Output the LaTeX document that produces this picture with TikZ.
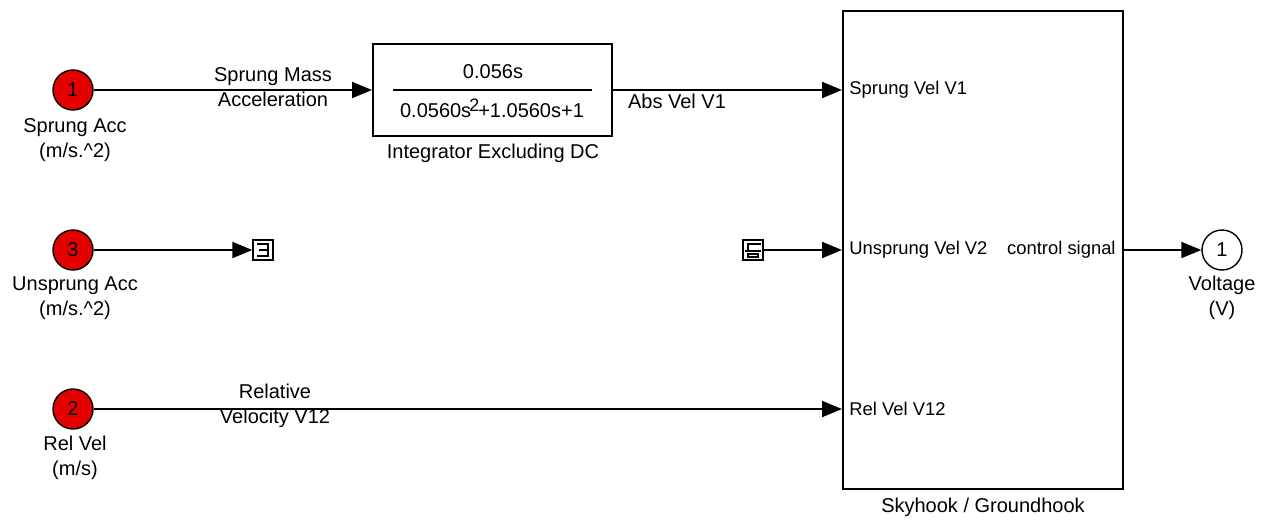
\documentclass[tikz,border=0pt]{standalone}
\usepackage{fontspec}
\setmainfont{Liberation Sans}
\usetikzlibrary{arrows.meta}

\begin{document}
\begin{tikzpicture}[
  x = 0.5pt,
  y = -0.5pt,
  font = \fontsize{10}{12.5}\selectfont,
  port/.style = {
    shape = circle,
    draw = black,
    line width = 0.7pt,
    minimum size = 20pt,
    inner sep = 0pt,
  },
  inport/.style = {
    port,
    fill = red!90!black,
  },
  block/.style = {
    draw = black,
    line width = 1pt,
    inner sep = 0pt,
  },
  icon/.style = {
    draw = black,
    line width = 0.7pt,
    minimum size = 10pt,
    inner sep = 0pt,
  },
  lbl/.style = {
    align = center,
    inner sep = 0pt,
  },
  portlbl/.style = {
    lbl,
    font = \fontsize{9.2}{11}\selectfont,
  },
  sig/.style = {
    line width = 1pt,
    -{Triangle[length = 10pt, width = 8pt]}
  }
]
  \useasboundingbox (0, 0) rectangle (1278, 519);

  % inports
  \node[inport] (in1) at (73, 90) {1};
  \node[inport] (in3) at (73, 250) {3};
  \node[inport] (in2) at (73, 409) {2};
  \node[lbl] (in1name) at (75, 140) {Sprung Acc\\(m/s.\^{}2)};
  \node[lbl] (in3name) at (75, 298) {Unsprung Acc\\(m/s.\^{}2)};
  \node[lbl] (in2name) at (75, 458) {Rel Vel\\(m/s)};

  % transfer function
  \node[block, minimum width = 119.5pt, minimum height = 45.5pt] (tf) at (492.5, 90) {};
  \node[lbl] (tfnum) at (493, 72) {0.056s};
  \node[lbl] (tfden) at (492, 108) {0.0560s\kern-1pt\raisebox{0.55ex}{\fontsize{9}{9}\selectfont 2}\kern-0.5pt+1.0560s+1};
  \draw[line width = 0.8pt] (393, 90) -- (592, 90);
  \node[lbl] (tfname) at (493, 153) {Integrator Excluding DC};

  % controller
  \node[block, minimum width = 140pt, minimum height = 239pt] (sky) at (983, 250) {};
  \node[portlbl, anchor = west] (p1) at (849, 90) {Sprung Vel V1};
  \node[portlbl, anchor = west] (p2) at (849, 250) {Unsprung Vel V2};
  \node[portlbl, anchor = west] (p3) at (849, 409) {Rel Vel V12};
  \node[portlbl, anchor = east] (q1) at (1116, 250) {control signal};
  \node[lbl] (skyname) at (983, 507) {Skyhook / Groundhook};

  % terminator and ground
  \node[icon] (term) at (263, 250) {};
  \draw[line width = 0.6pt] (257, 244) -- (268, 244) -- (268, 256) -- (257, 256);
  \draw[line width = 0.6pt] (259, 250) -- (268, 250);
  \node[icon] (gnd) at (753, 250) {};
  \draw[line width = 0.6pt] (748, 251) -- (748, 244) -- (761, 244);
  \draw[line width = 0.6pt] (745, 251) -- (761, 251);
  \draw[line width = 0.6pt] (748, 254) rectangle (758, 257);

  % outport
  \node[port] (out1) at (1222, 250) {1};
  \node[lbl] (out1name) at (1222, 298) {Voltage\\(V)};

  % signals
  \draw[sig] (in1) -- (tf);
  \draw[sig] (tf) -- (tf.east -| sky.west);
  \draw[sig] (in3) -- (term);
  \draw[sig] (gnd) -- (gnd -| sky.west);
  \draw[sig] (in2) -- (in2 -| sky.west);
  \draw[sig] (sky) -- (out1);

  \node[lbl] (s1) at (273, 87) {Sprung Mass\\Acceleration};
  \node[lbl] (s2) at (677, 101) {Abs Vel V1};
  \node[lbl] (s3) at (275, 406) {Relative\\Velocity V12};
\end{tikzpicture}
\end{document}
